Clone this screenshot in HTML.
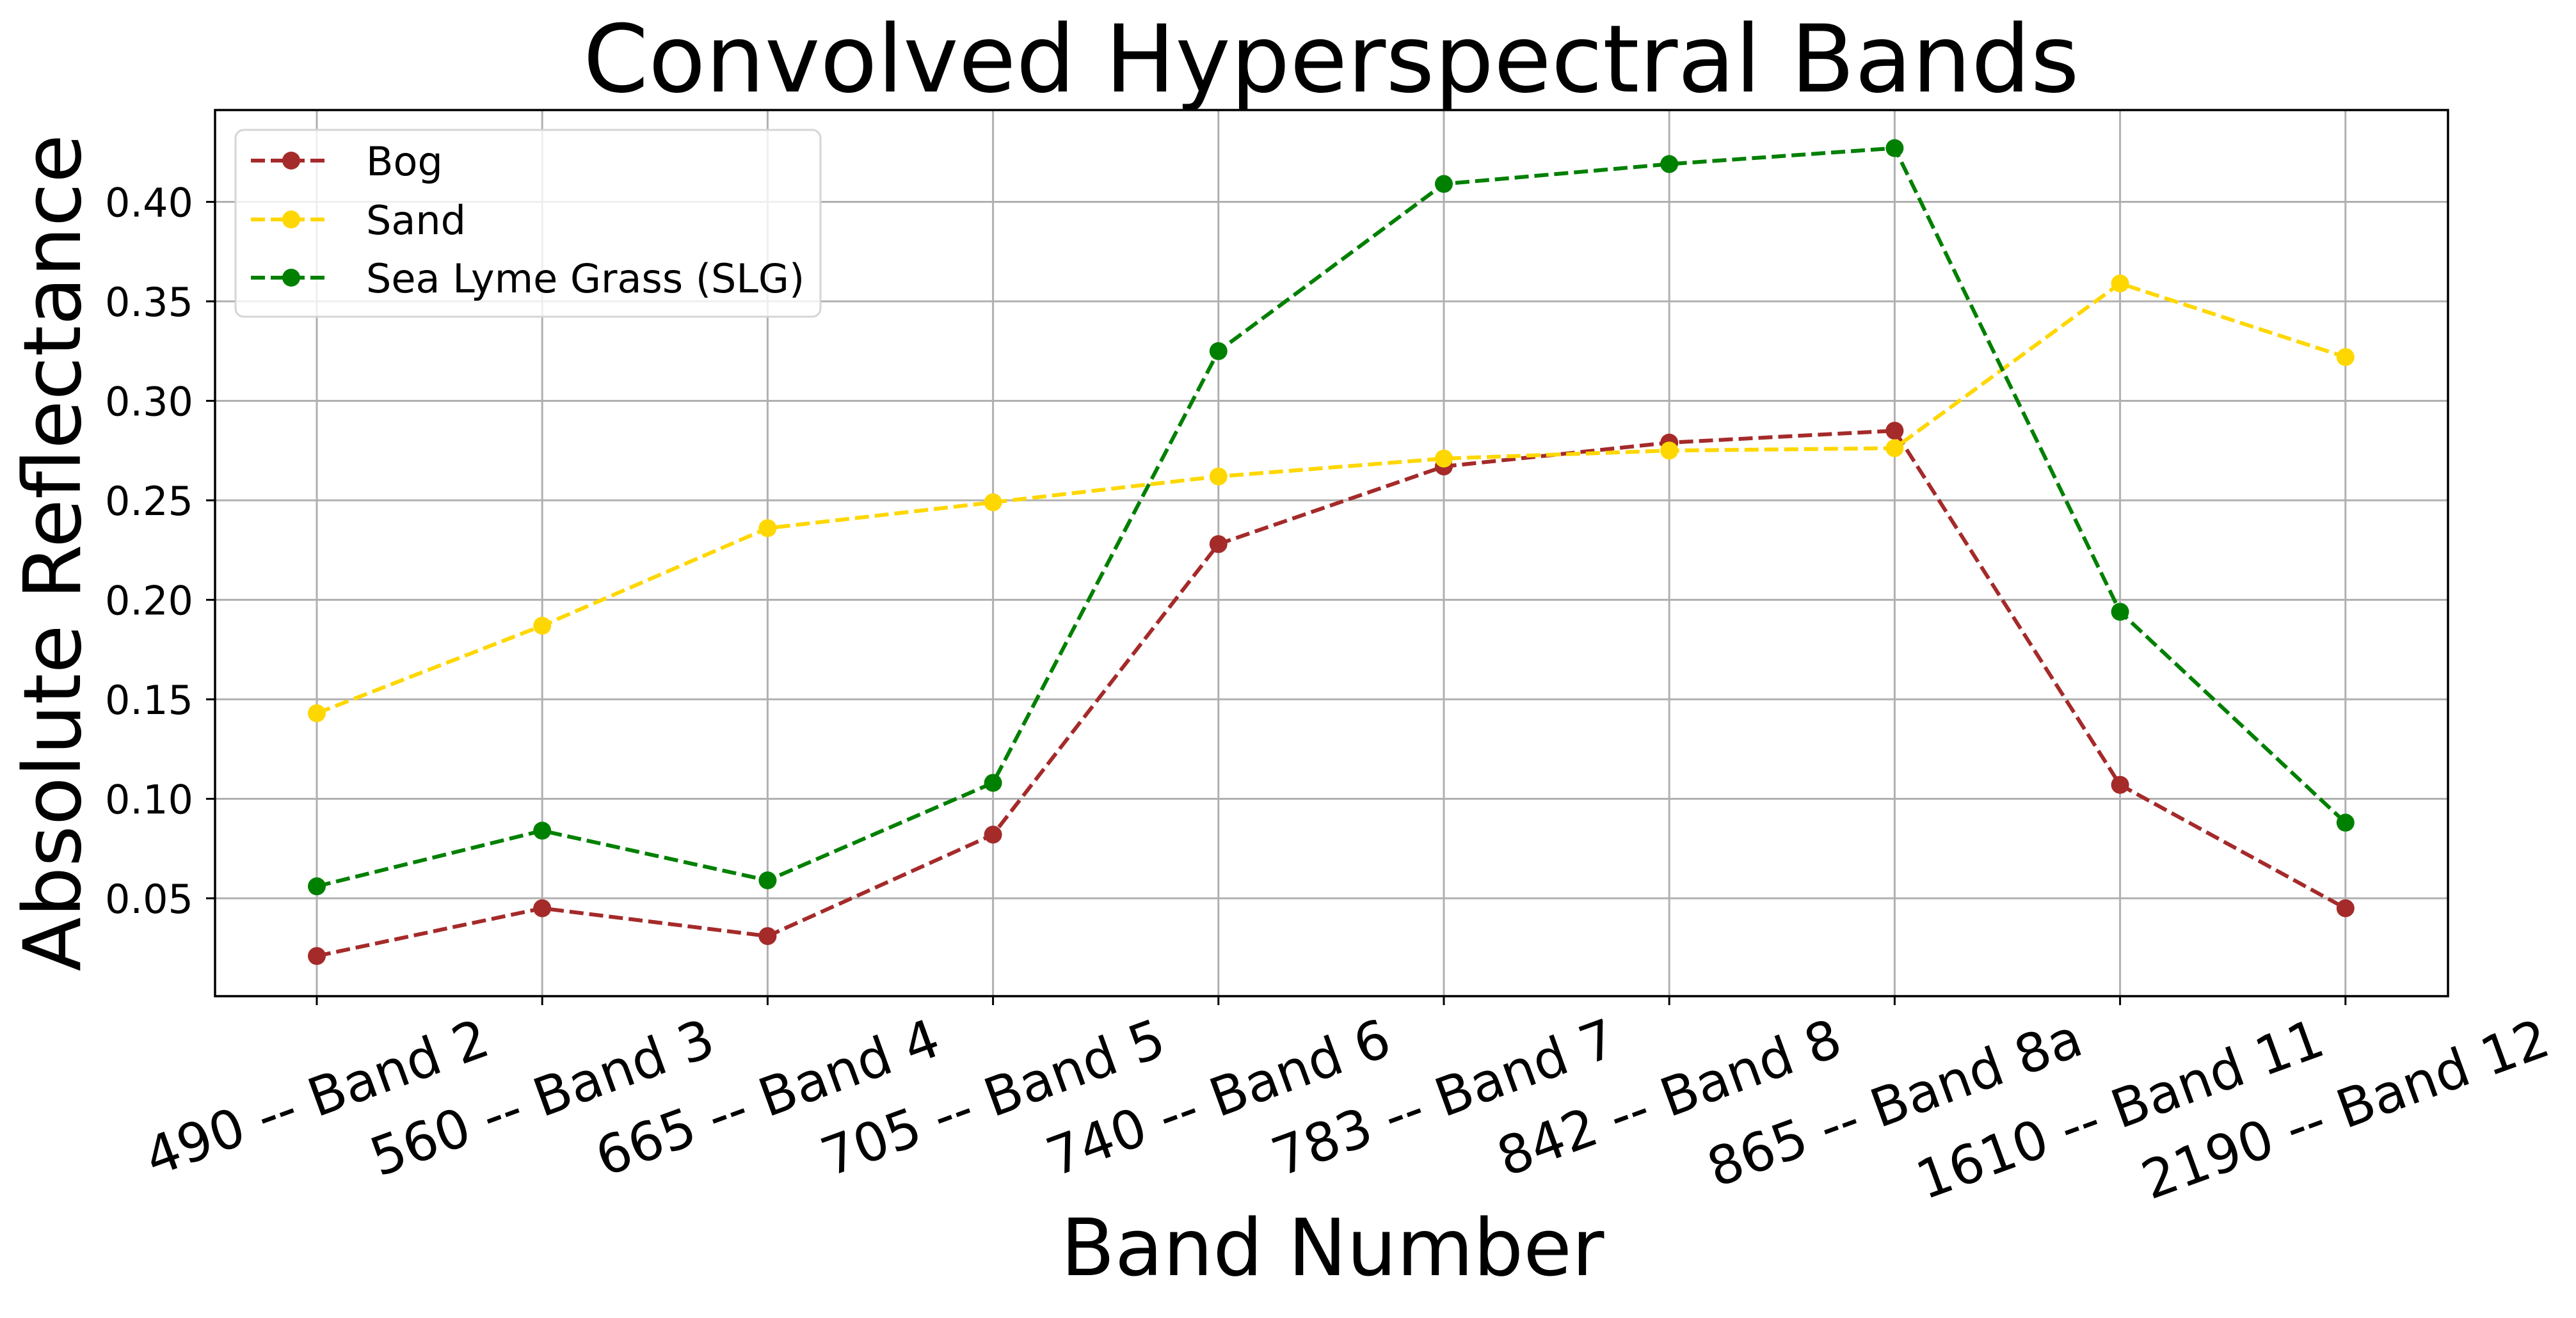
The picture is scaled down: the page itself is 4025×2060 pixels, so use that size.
<!DOCTYPE html>
<html><head><meta charset="utf-8"><style>html,body{margin:0;padding:0;background:#fff}svg{display:block}</style></head>
<body>
<svg width="4025" height="2060" viewBox="0 0 4025 2060" xmlns="http://www.w3.org/2000/svg" font-family="'DejaVu Sans','Liberation Sans',sans-serif">
<rect width="4025" height="2060" fill="#fff"/>
<g stroke="#b0b0b0" stroke-width="3">
<line x1="495" y1="172" x2="495" y2="1557"/><line x1="847.2" y1="172" x2="847.2" y2="1557"/><line x1="1199.4" y1="172" x2="1199.4" y2="1557"/><line x1="1551.6" y1="172" x2="1551.6" y2="1557"/><line x1="1903.8" y1="172" x2="1903.8" y2="1557"/><line x1="2256" y1="172" x2="2256" y2="1557"/><line x1="2608.2" y1="172" x2="2608.2" y2="1557"/><line x1="2960.4" y1="172" x2="2960.4" y2="1557"/><line x1="3312.6" y1="172" x2="3312.6" y2="1557"/><line x1="3664.8" y1="172" x2="3664.8" y2="1557"/>
<line x1="336" y1="1404" x2="3825" y2="1404"/><line x1="336" y1="1248.5" x2="3825" y2="1248.5"/><line x1="336" y1="1093" x2="3825" y2="1093"/><line x1="336" y1="937.5" x2="3825" y2="937.5"/><line x1="336" y1="782" x2="3825" y2="782"/><line x1="336" y1="626.5" x2="3825" y2="626.5"/><line x1="336" y1="471" x2="3825" y2="471"/><line x1="336" y1="315.5" x2="3825" y2="315.5"/>
</g>
<g fill="none" stroke-width="6" stroke-dasharray="22 9">
<polyline stroke="#a52a2a" points="495,1494.2 847.2,1419.6 1199.4,1463.1 1551.6,1304.5 1903.8,850.4 2256,729.1 2608.2,691.8 2960.4,673.2 3312.6,1226.7 3664.8,1419.6"/>
<polyline stroke="#ffd700" points="495,1114.8 847.2,978 1199.4,825.5 1551.6,785.1 1903.8,744.7 2256,716.7 2608.2,704.2 2960.4,700.5 3312.6,443 3664.8,558.1"/>
<polyline stroke="#008000" points="495,1385.3 847.2,1298.3 1199.4,1376 1551.6,1223.6 1903.8,548.8 2256,287.5 2608.2,256.4 2960.4,231.5 3312.6,956.2 3664.8,1285.8"/>
</g>
<g fill="#a52a2a"><circle cx="495" cy="1494.2" r="14"/><circle cx="847.2" cy="1419.6" r="14"/><circle cx="1199.4" cy="1463.1" r="14"/><circle cx="1551.6" cy="1304.5" r="14"/><circle cx="1903.8" cy="850.4" r="14"/><circle cx="2256" cy="729.1" r="14"/><circle cx="2608.2" cy="691.8" r="14"/><circle cx="2960.4" cy="673.2" r="14"/><circle cx="3312.6" cy="1226.7" r="14"/><circle cx="3664.8" cy="1419.6" r="14"/></g>
<g fill="#ffd700"><circle cx="495" cy="1114.8" r="14"/><circle cx="847.2" cy="978" r="14"/><circle cx="1199.4" cy="825.5" r="14"/><circle cx="1551.6" cy="785.1" r="14"/><circle cx="1903.8" cy="744.7" r="14"/><circle cx="2256" cy="716.7" r="14"/><circle cx="2608.2" cy="704.2" r="14"/><circle cx="2960.4" cy="700.5" r="14"/><circle cx="3312.6" cy="443" r="14"/><circle cx="3664.8" cy="558.1" r="14"/></g>
<g fill="#008000"><circle cx="495" cy="1385.3" r="14"/><circle cx="847.2" cy="1298.3" r="14"/><circle cx="1199.4" cy="1376" r="14"/><circle cx="1551.6" cy="1223.6" r="14"/><circle cx="1903.8" cy="548.8" r="14"/><circle cx="2256" cy="287.5" r="14"/><circle cx="2608.2" cy="256.4" r="14"/><circle cx="2960.4" cy="231.5" r="14"/><circle cx="3312.6" cy="956.2" r="14"/><circle cx="3664.8" cy="1285.8" r="14"/></g>
<rect x="336" y="172" width="3489" height="1385" fill="none" stroke="#000" stroke-width="3.5"/>
<g stroke="#000" stroke-width="3">
<line x1="322" y1="1404" x2="336" y2="1404"/><line x1="322" y1="1248.5" x2="336" y2="1248.5"/><line x1="322" y1="1093" x2="336" y2="1093"/><line x1="322" y1="937.5" x2="336" y2="937.5"/><line x1="322" y1="782" x2="336" y2="782"/><line x1="322" y1="626.5" x2="336" y2="626.5"/><line x1="322" y1="471" x2="336" y2="471"/><line x1="322" y1="315.5" x2="336" y2="315.5"/>
<line x1="495" y1="1557" x2="495" y2="1571"/><line x1="847.2" y1="1557" x2="847.2" y2="1571"/><line x1="1199.4" y1="1557" x2="1199.4" y2="1571"/><line x1="1551.6" y1="1557" x2="1551.6" y2="1571"/><line x1="1903.8" y1="1557" x2="1903.8" y2="1571"/><line x1="2256" y1="1557" x2="2256" y2="1571"/><line x1="2608.2" y1="1557" x2="2608.2" y2="1571"/><line x1="2960.4" y1="1557" x2="2960.4" y2="1571"/><line x1="3312.6" y1="1557" x2="3312.6" y2="1571"/><line x1="3664.8" y1="1557" x2="3664.8" y2="1571"/>
</g>
<g font-size="62" text-anchor="end" fill="#000">
<text x="302" y="1427">0.05</text><text x="302" y="1271.5">0.10</text><text x="302" y="1116">0.15</text><text x="302" y="960.5">0.20</text><text x="302" y="805">0.25</text><text x="302" y="649.5">0.30</text><text x="302" y="494">0.35</text><text x="302" y="338.5">0.40</text>
</g>
<g font-size="83" text-anchor="middle" dominant-baseline="central" fill="#000">
<text transform="translate(495,1716) rotate(-20)">490 -- Band 2</text>
<text transform="translate(847.2,1716) rotate(-20)">560 -- Band 3</text>
<text transform="translate(1199.4,1716) rotate(-20)">665 -- Band 4</text>
<text transform="translate(1551.6,1716) rotate(-20)">705 -- Band 5</text>
<text transform="translate(1903.8,1716) rotate(-20)">740 -- Band 6</text>
<text transform="translate(2256,1716) rotate(-20)">783 -- Band 7</text>
<text transform="translate(2608.2,1716) rotate(-20)">842 -- Band 8</text>
<text transform="translate(2960.4,1724) rotate(-20)">865 -- Band 8a</text>
<text transform="translate(3312.6,1734) rotate(-20)">1610 -- Band 11</text>
<text transform="translate(3664.8,1734) rotate(-20)">2190 -- Band 12</text>
</g>
<text x="2080" y="143" font-size="146" text-anchor="middle">Convolved Hyperspectral Bands</text>
<text x="2082" y="1993" font-size="123" text-anchor="middle">Band Number</text>
<text transform="translate(125,864) rotate(-90)" font-size="124" text-anchor="middle">Absolute Reflectance</text>
<rect x="368" y="203" width="914" height="292" rx="13" fill="#fff" fill-opacity="0.8" stroke="#d5d5d5" stroke-width="3"/>
<g stroke-width="6" stroke-dasharray="22 9">
<line x1="392" y1="251" x2="514" y2="251" stroke="#a52a2a"/>
<line x1="392" y1="343" x2="514" y2="343" stroke="#ffd700"/>
<line x1="392" y1="434" x2="514" y2="434" stroke="#008000"/>
</g>
<circle cx="455" cy="251" r="14" fill="#a52a2a"/>
<circle cx="455" cy="343" r="14" fill="#ffd700"/>
<circle cx="455" cy="434" r="14" fill="#008000"/>
<g font-size="62" fill="#000">
<text x="572" y="274">Bog</text>
<text x="572" y="366">Sand</text>
<text x="572" y="457">Sea Lyme Grass (SLG)</text>
</g>
</svg>
</body></html>
